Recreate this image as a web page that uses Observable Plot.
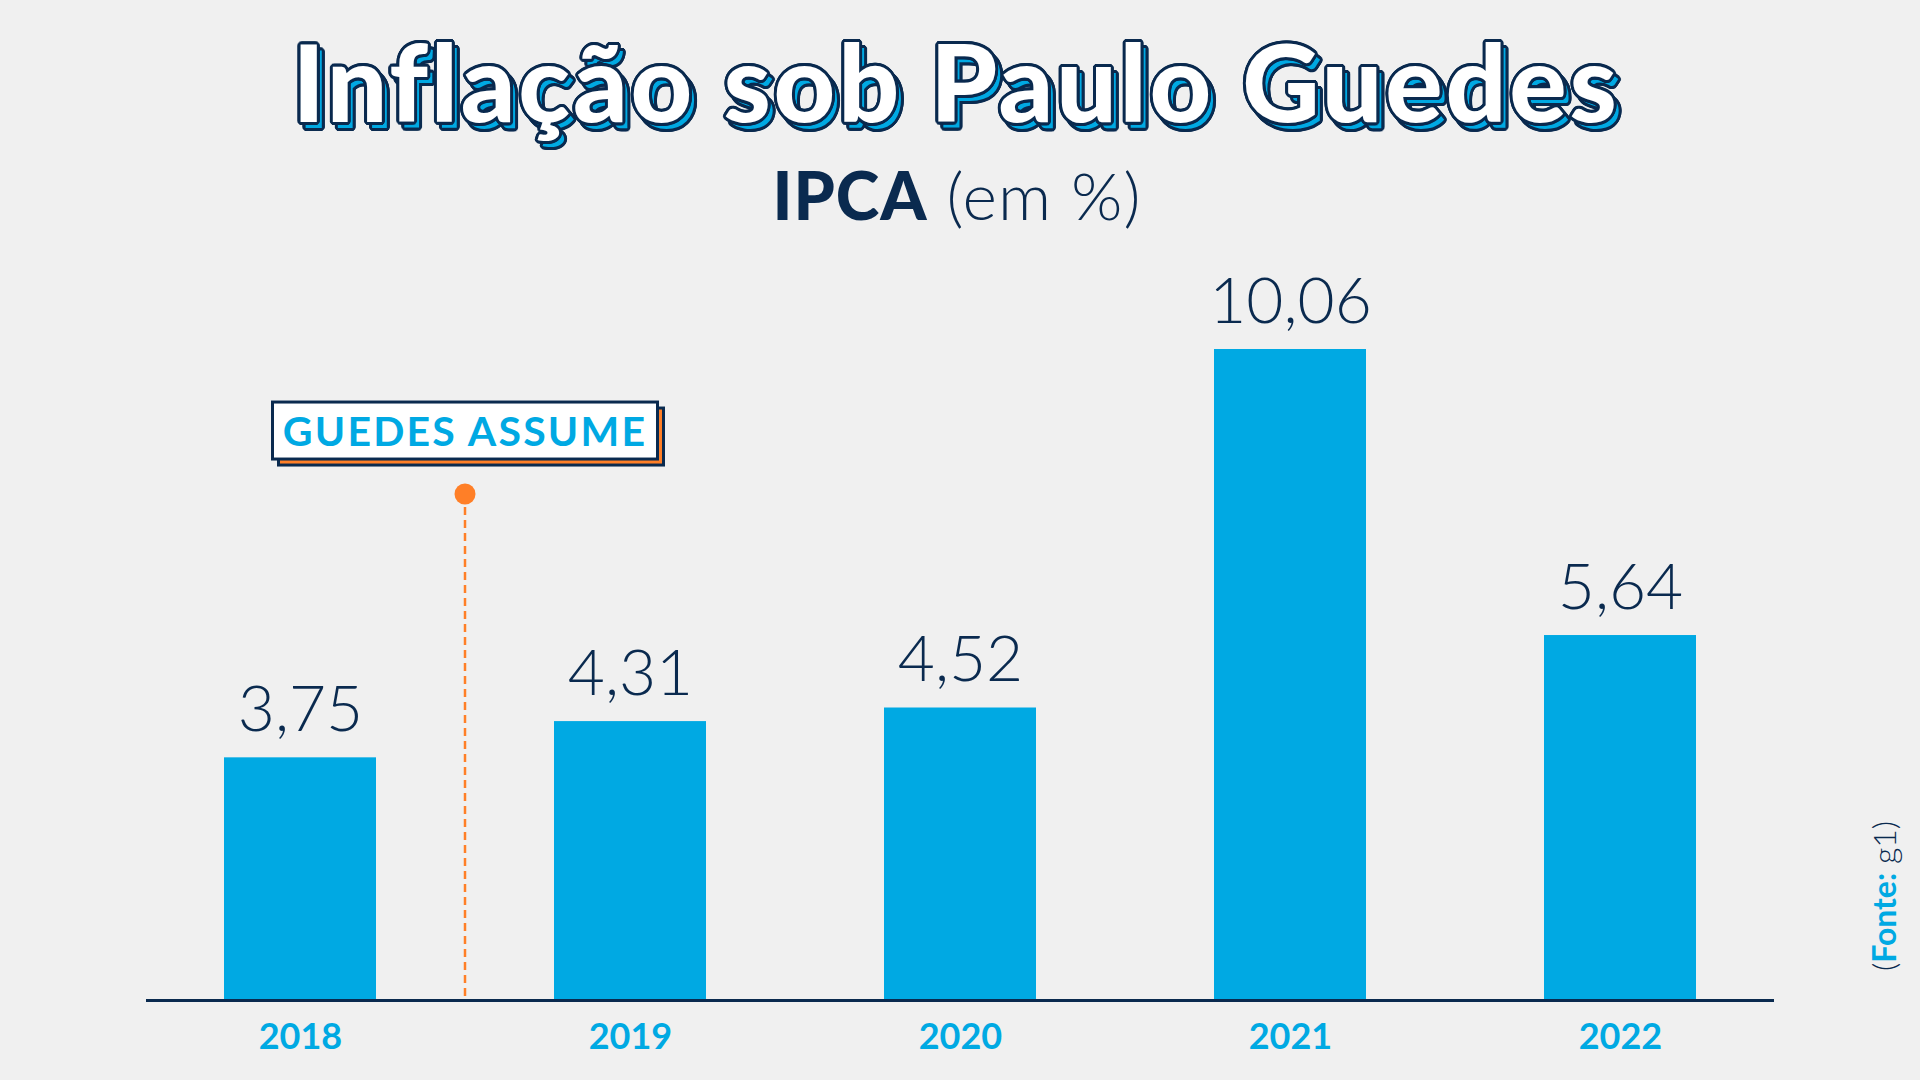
<!DOCTYPE html>
<html><head><meta charset="utf-8">
<script src="https://cdn.jsdelivr.net/npm/d3@7"></script>
<script src="https://cdn.jsdelivr.net/npm/@observablehq/plot@0.6"></script>
<style>
html,body{margin:0;padding:0;background:#f0f0f0;}
#wrap{position:relative;width:1920px;height:1080px;overflow:hidden;font-family:Lato,"Noto Sans",sans-serif;}
#chart{position:absolute;left:0;top:0;}
.title{position:absolute;z-index:1;left:-4px;width:1920px;top:27px;text-align:center;font-family:Lato,sans-serif;font-weight:900;font-size:107px;letter-spacing:2.8px;line-height:1;white-space:nowrap;color:#ffffff;}
.title::before{content:attr(data-text);position:absolute;z-index:-1;left:0;top:0;width:100%;text-align:center;color:#00a9e3;transform:translate(5px,6px);}
.subtitle{position:absolute;left:-3px;width:1920px;top:162px;text-align:center;font-family:Lato,sans-serif;font-size:66px;letter-spacing:1px;line-height:1;color:#0a2a4f;white-space:nowrap;}
.subtitle b{font-weight:900;}
.subtitle span{font-weight:300;}
.source{position:absolute;left:1884px;top:896px;transform:translate(-50%,-50%) rotate(-90deg);font-family:Lato,sans-serif;font-size:32px;line-height:1;white-space:nowrap;color:#0a2a4f;font-weight:300;}
.source b{color:#00a9e3;font-weight:700;}
</style>
</head><body>
<div id="wrap">
  <div id="chart"></div>
  <div class="title" id="title"></div>
  <div class="subtitle"><b>IPCA</b><span> (em %)</span></div>
  <div class="source">(<b>Fonte:</b> g1)</div>
</div>
<script>
const titleText = "Inflação sob Paulo Guedes";
const years = ["2018", "2019", "2020", "2021", "2022"];
const ipca = [3.75, 4.31, 4.52, 10.06, 5.64];
const annotationText = "GUEDES ASSUME";
const annotationYear = "2018";     // annotation sits between this year and the next
const annotationDotLevel = 7.82;   // IPCA level where the marker dot sits
const annotationBoxLevel = 8.8;    // IPCA level of the label box centre

const BLUE = "#00a9e3", NAVY = "#0a2a4f", ORANGE = "#ff7f27";
const PADDING_INNER = 0.54, PADDING_OUTER = 0.235;

const data = years.map((y, i) => ({year: y, value: ipca[i], label: ipca[i].toFixed(2).replace(".", ",")}));

// title with navy outline + blue drop shadow (shadow drawn by a pseudo-element)
function outline(color, r) {
  const s = [];
  for (let a = 0; a < 360; a += 22.5) {
    const t = a * Math.PI / 180;
    s.push(`${(r * Math.cos(t)).toFixed(2)}px ${(r * Math.sin(t)).toFixed(2)}px 0 ${color}`);
  }
  return s.join(",");
}
const title = document.getElementById("title");
title.textContent = titleText;
title.setAttribute("data-text", titleText);
const st = document.createElement("style");
st.textContent = `.title{text-shadow:${outline(NAVY, 3)};} .title::before{text-shadow:${outline(NAVY, 3)};}`;
document.head.appendChild(st);

function annotation(index, scales, values, dimensions, context) {
  const x = scales.x;
  const i = years.indexOf(annotationYear);
  const x0 = x(years[i]), x1 = x(years[i + 1]);
  const step = x1 - x0;
  const bw = typeof x.bandwidth === "function" ? x.bandwidth() : step * (1 - PADDING_INNER);
  const cx = x0 + bw / 2 + step / 2;
  const yDot = scales.y(annotationDotLevel), yBase = scales.y(0), yBox = scales.y(annotationBoxLevel);
  const g = d3.create("svg:g");
  g.append("line").attr("x1", cx).attr("x2", cx).attr("y1", yDot).attr("y2", yBase)
    .attr("stroke", ORANGE).attr("stroke-width", 2.5).attr("stroke-dasharray", "8,5");
  g.append("circle").attr("cx", cx).attr("cy", yDot).attr("r", 10.5).attr("fill", ORANGE);
  const w = 385, h = 57;
  g.append("rect").attr("x", cx - w / 2 + 6).attr("y", yBox - h / 2 + 6).attr("width", w).attr("height", h)
    .attr("fill", ORANGE).attr("stroke", NAVY).attr("stroke-width", 3);
  g.append("rect").attr("x", cx - w / 2).attr("y", yBox - h / 2).attr("width", w).attr("height", h)
    .attr("fill", "#ffffff").attr("stroke", NAVY).attr("stroke-width", 3);
  g.append("text").attr("x", cx).attr("y", yBox + 15).attr("text-anchor", "middle")
    .attr("fill", BLUE).attr("font-size", 41).attr("font-weight", 700).attr("letter-spacing", 2.2)
    .attr("font-family", "Lato, sans-serif")
    .text(annotationText);
  return g.node();
}

const chart = Plot.plot({
  width: 1920, height: 1080,
  marginTop: 349, marginBottom: 80, marginLeft: 146, marginRight: 146,
  style: {background: "transparent", fontFamily: "Lato, sans-serif"},
  x: {domain: years, paddingInner: PADDING_INNER, paddingOuter: PADDING_OUTER, label: null},
  y: {domain: [0, d3.max(ipca)], axis: null},
  marks: [
    Plot.barY(data, {x: "year", y: "value", fill: BLUE}),
    Plot.text(data, {x: "year", y: "value", text: "label", dy: -27, lineAnchor: "bottom",
      fontSize: 64, fontWeight: 300, fill: NAVY}),
    annotation,
    Plot.ruleY([0], {stroke: NAVY, strokeWidth: 3}),
    Plot.axisX({tickSize: 0, tickPadding: 23, fontSize: 36, fontWeight: 700, fill: BLUE, color: BLUE, label: null})
  ]
});
document.getElementById("chart").appendChild(chart);
</script>
</body></html>
